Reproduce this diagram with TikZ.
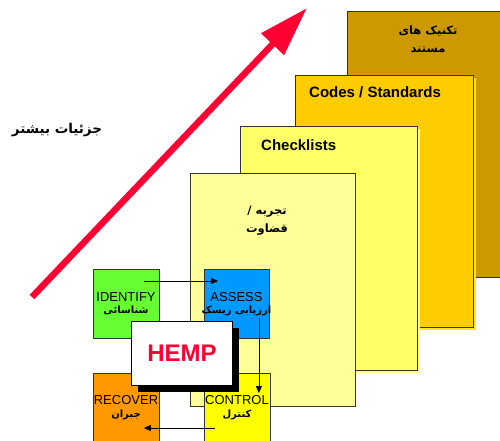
\documentclass[tikz,border=0pt]{standalone}
\usepackage{fontspec}
\setmainfont{Liberation Sans}
\newfontfamily\arabicfont[Script=Arabic]{DejaVu Sans}
\TeXXeTstate=1
\usetikzlibrary{arrows.meta,calc}
\definecolor{goldD}{HTML}{CC9900}
\definecolor{goldC}{HTML}{FFCC00}
\definecolor{goldCs}{HTML}{FFE033}
\definecolor{yelB}{HTML}{FFFF66}
\definecolor{yelBs}{HTML}{FFFF88}
\definecolor{yelA}{HTML}{FFFF99}
\definecolor{edgeG}{HTML}{333333}
\definecolor{arrRed}{HTML}{FF0033}
\definecolor{idGreen}{HTML}{66FF33}
\definecolor{asBlue}{HTML}{0099FF}
\definecolor{reOrange}{HTML}{FF9900}
\definecolor{coYellow}{HTML}{FFFF00}
\begin{document}
\begin{tikzpicture}[x=1pt,y=-1pt,
  layer/.style={draw=edgeG, line width=1.4pt, anchor=north west, inner sep=0pt},
  lshadow/.style={anchor=north west, inner sep=0pt},
  stage/.style={draw=edgeG, line width=0.9pt, anchor=north west, inner sep=0pt},
  lat/.style={font=\fontsize{13}{15}\selectfont, inner sep=0pt},
  fa/.style={font=\arabicfont\bfseries\fontsize{10}{12}\selectfont, inner sep=0pt},
  fabig/.style={font=\arabicfont\bfseries\fontsize{11.5}{18}\selectfont, inner sep=0pt, align=center},
  head/.style={font=\bfseries\fontsize{15}{18}\selectfont, inner sep=0pt, anchor=west},
  flow/.style={draw=black, line width=0.8pt, -{Triangle[length=7pt,width=6pt]}},
  bigarrow/.style={draw=arrRed, line width=6.5pt, -{Triangle[length=50pt,width=30pt]}}
]
\useasboundingbox (0,0) rectangle (500,441);
\clip (0,0) rectangle (500,441);
% stacked layers
\node[layer, fill=goldD, minimum width=163pt, minimum height=266pt] (l4) at (347,11) {};
\node[lshadow, fill=goldCs, minimum width=178pt, minimum height=252pt] (l3s) at (298,78) {};
\node[layer, fill=goldC, minimum width=178pt, minimum height=252pt] (l3) at (295,75) {};
\node[lshadow, fill=yelBs, minimum width=177pt, minimum height=244pt] (l2s) at (243,129) {};
\node[layer, fill=yelB, minimum width=177pt, minimum height=244pt] (l2) at (240,126) {};
\node[layer, fill=yelA, minimum width=165pt, minimum height=233pt] (l1) at (190,173) {};
% layer texts
\node[fabig] (t4) at (428,39) {\beginR تکنیک های\endR\\\beginR مستند\endR};
\node[head] (t3) at (309,92) {Codes / Standards};
\node[head] (t2) at (261,145) {Checklists};
\node[fabig] (t1) at (267,221) {\beginR تجربه /\endR\\\beginR قضاوت\endR};
% big arrow
\coordinate (atail) at (32,297);
\coordinate (atip) at (307,8);
\draw[bigarrow] (atail) -- (atip);
\node[font=\arabicfont\bfseries\fontsize{13.5}{16}\selectfont, inner sep=0pt] (more) at (57,130) {\beginR جزئیات بیشتر\endR};
% process boxes
\node[stage, fill=idGreen, minimum width=66pt, minimum height=69pt] (identify) at (93,269) {};
\node[stage, fill=asBlue, minimum width=65pt, minimum height=69pt] (assess) at (204,269) {};
\node[stage, fill=reOrange, minimum width=66pt, minimum height=80pt] (recover) at (93,373) {};
\node[stage, fill=coYellow, minimum width=66pt, minimum height=80pt] (control) at (204,373) {};
\node[lat] (idT) at (126,297) {IDENTIFY};
\node[fa] (idF) at (126,310) {\beginR شناسائی\endR};
\node[lat] (asT) at (236.5,297) {ASSESS};
\node[fa] (asF) at (236.5,311) {\beginR ارزیابی ریسک\endR};
\node[lat] (reT) at (126,400) {RECOVER};
\node[fa] (reF) at (126,415) {\beginR جبران\endR};
\node[lat] (coT) at (237,400) {CONTROL};
\node[fa] (coF) at (237,415) {\beginR کنترل\endR};
% flow arrows
\draw[flow] ([xshift=-16pt,yshift=-12pt]identify.north east) -- ([xshift=14pt,yshift=-12pt]assess.north west);
\draw[flow] ([xshift=-11pt,yshift=-49pt]assess.north east) -- ([xshift=-12pt,yshift=-20pt]control.north east);
\draw[flow] ([xshift=11pt,yshift=-55pt]control.north west) -- ([xshift=-16pt,yshift=-55pt]recover.north east);
% HEMP
\node[anchor=north west, fill=black, inner sep=0pt, minimum width=101pt, minimum height=64pt] (hemps) at (138,328) {};
\node[anchor=north west, draw=black, line width=1pt, fill=white, inner sep=0pt, minimum width=101pt, minimum height=64pt] (hemp) at (131,321) {};
\node[text=arrRed, font=\bfseries\fontsize{24}{28}\selectfont, inner sep=0pt] (hempT) at (hemp.center) {HEMP};
\end{tikzpicture}
\end{document}
